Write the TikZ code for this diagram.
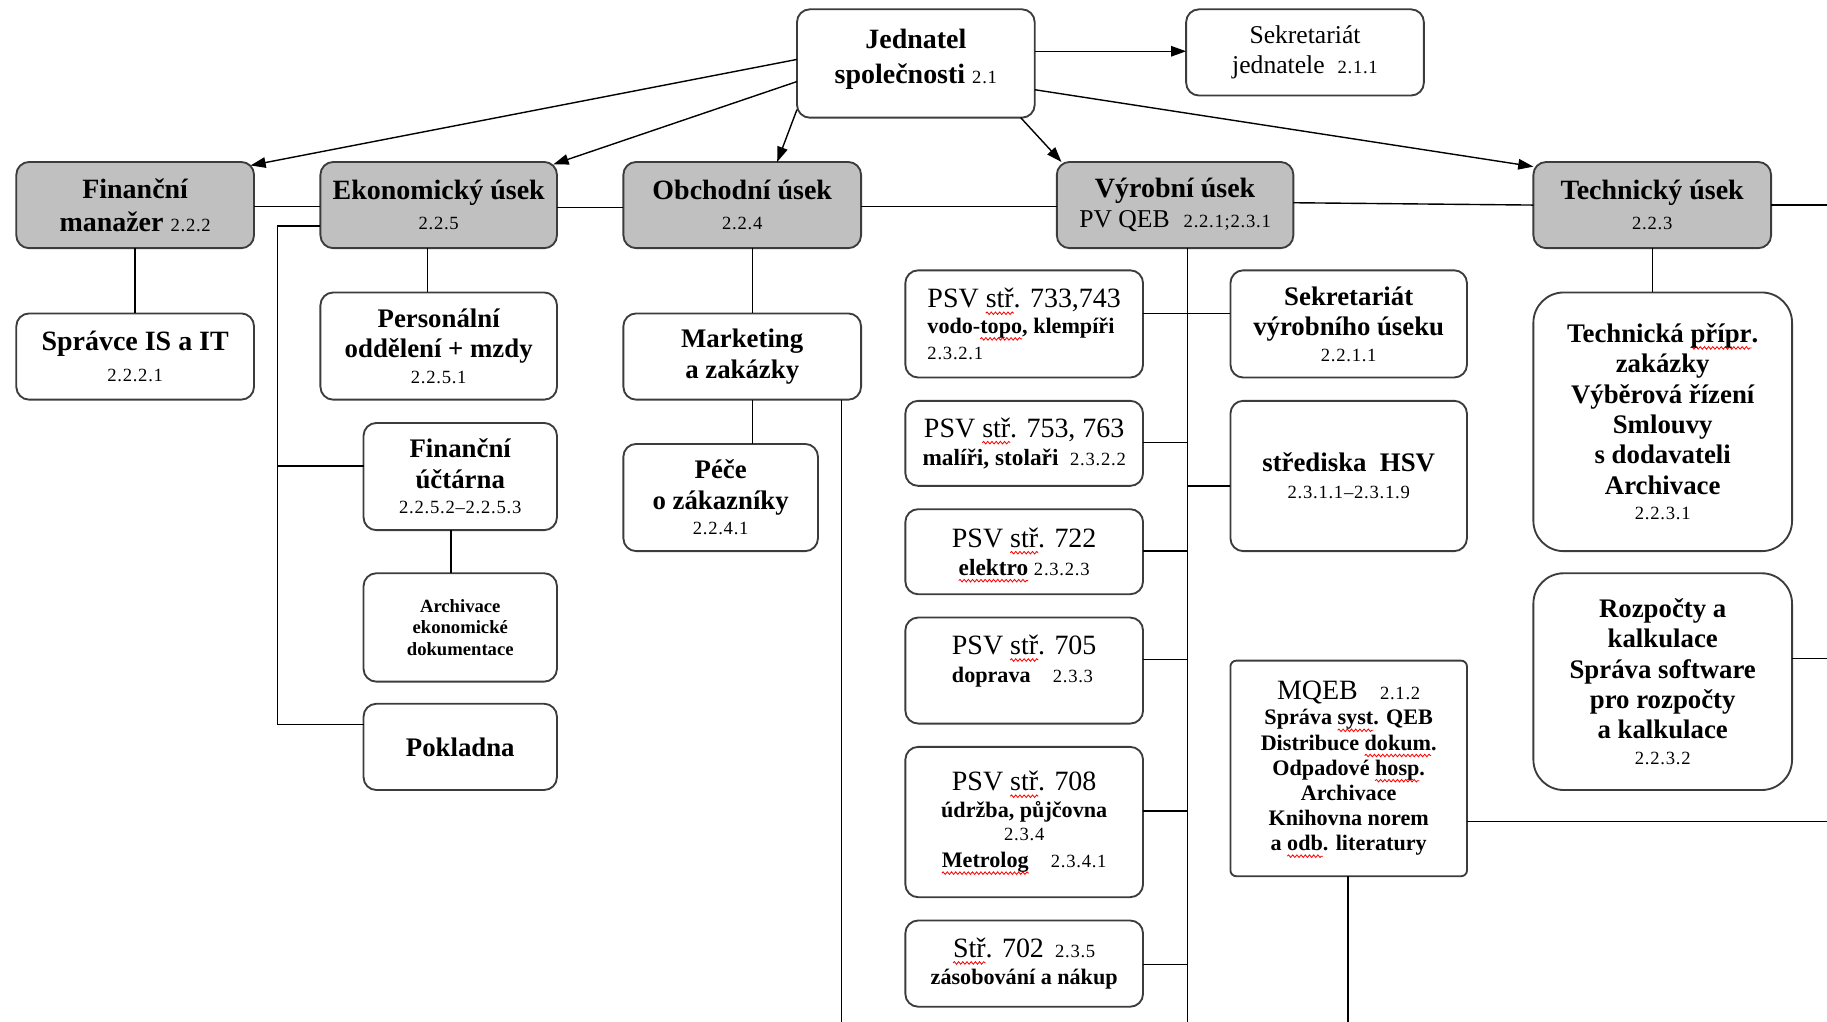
\documentclass[tikz,border=0pt]{standalone}
\usepackage{fontspec}
\setmainfont{Liberation Serif}
\newfontfamily\numf[LetterSpace=4]{Liberation Serif}
\usetikzlibrary{arrows.meta,calc,decorations.pathmorphing}
\definecolor{gcol}{RGB}{192,192,192}
\definecolor{bcol}{RGB}{60,60,60}
\newsavebox\sqbox
\newlength\sqw
\newcommand\sq[1]{\leavevmode\sbox\sqbox{#1}\setlength\sqw{\wd\sqbox}\rlap{\tikz[overlay,x=1pt,y=1pt,sharp corners]\draw[red,line width=0.35pt,decorate,decoration={snake,amplitude=0.55pt,segment length=1.8pt}] (0,-2.3) -- (\sqw,-2.3);}\usebox\sqbox}
\newcommand\nm[1]{{\numf\mdseries\fontsize{8}{9.5}\selectfont #1}}
\newcommand\fs[2]{\fontsize{#1}{#2}\selectfont}
\tikzset{
 bx/.style={draw=bcol, line width=0.8pt, rounded corners=5.5pt, fill=white, align=center,
   inner sep=0pt, outer sep=0pt, font=\bfseries\fs{11.5}{13}},
 gbx/.style={bx, fill=gcol, font=\bfseries\fs{12}{13}},
 rbx/.style={bx, rounded corners=13pt},
 sbx/.style={bx, rounded corners=2.5pt},
 ln/.style={draw=black, line width=0.6pt},
 ar/.style={ln, -{Triangle[length=6.5pt,width=4.5pt]}},
}
\begin{document}
\begin{tikzpicture}[x=0.5pt,y=-0.5pt]
\useasboundingbox (0,0) rectangle (1568,877);

% top level
\node[bx, minimum width=102pt, minimum height=46.5pt, font=\bfseries\fs{12}{15}, text depth=6pt] (jed) at (786,54.5) {Jednatel\\ společnosti \nm{2.1}};
\node[bx, minimum width=102pt, minimum height=37pt, font=\mdseries\fs{11}{13}] (sekj) at (1120,45) {Sekretariát\\ jednatele\ \ \nm{2.1.1}};

% second row (grey)
\node[gbx, minimum width=102pt, minimum height=37pt, font=\bfseries\fs{12}{14}] (fm) at (116,176) {Finanční\\ manažer \nm{2.2.2}};
\node[gbx, minimum width=101.5pt, minimum height=37pt] (eko) at (376.5,176) {Ekonomický úsek\\ \nm{2.2.5}};
\node[gbx, minimum width=102pt, minimum height=37pt] (obch) at (637,176) {Obchodní úsek\\ \nm{2.2.4}};
\node[gbx, minimum width=101.5pt, minimum height=37pt] (vyr) at (1008.5,176) {Výrobní úsek\\ {\mdseries\fs{11}{12}PV QEB}\ \ \nm{2.2.1;2.3.1}};
\node[gbx, minimum width=102pt, minimum height=37pt] (tech) at (1418,176) {Technický úsek\\ \nm{2.2.3}};

% finance / economics
\node[bx, minimum width=102pt, minimum height=37pt, font=\bfseries\fs{12}{13}] (spr) at (116,306) {Správce IS a IT\\ \nm{2.2.2.1}};
\node[bx, minimum width=101.5pt, minimum height=46pt] (pers) at (376.5,297) {Personální\\ oddělení + mzdy\\[-2pt] \nm{2.2.5.1}};
\node[bx, minimum width=83pt, minimum height=46pt] (fu) at (395,409) {Finanční\\ účtárna\\[-2pt] \nm{2.2.5.2–2.2.5.3}};
\node[bx, minimum width=83pt, minimum height=46.5pt, font=\bfseries\fs{8}{9.2}] (arch) at (395,538.5) {Archivace\\ ekonomické\\ dokumentace};
\node[bx, minimum width=83pt, minimum height=37pt] (pokl) at (395,641) {Pokladna};

% sales
\node[bx, minimum width=102pt, minimum height=37pt] (mark) at (637,306) {Marketing\\ a zakázky};
\node[bx, minimum width=83.5pt, minimum height=46pt] (pece) at (618.5,427) {Péče\\ o zákazníky\\[-2pt] \nm{2.2.4.1}};

% production
\node[bx, minimum width=102pt, minimum height=46pt, align=left, font=\bfseries\fs{9.5}{11}] (p733) at (879,278) {{\mdseries\fs{12}{13}PSV \sq{stř}. 733,743}\\ vodo-\sq{topo}, klempíři\\ \nm{2.3.2.1}};
\node[bx, minimum width=102pt, minimum height=36.5pt, font=\bfseries\fs{10}{12}] (p753) at (879,380.5) {{\mdseries\fs{12}{13}PSV \sq{stř}. 753, 763}\\ malíři, stolaři\ \ \nm{2.3.2.2}};
\node[bx, minimum width=102pt, minimum height=36.5pt, font=\bfseries\fs{10}{12}] (p722) at (879,473.5) {{\mdseries\fs{12}{13}PSV \sq{stř}. 722}\\ \sq{elektro} \nm{2.3.2.3}};
\node[bx, minimum width=102pt, minimum height=45.5pt, align=left, font=\bfseries\fs{9.5}{12}, text depth=10pt] (p705) at (879,575.5) {{\mdseries\fs{12}{13}PSV \sq{stř}. 705}\\ doprava\quad \nm{2.3.3}};
\node[bx, minimum width=102pt, minimum height=64.5pt, font=\bfseries\fs{9.5}{11.5}] (p708) at (879,705.5) {{\mdseries\fs{12}{13}PSV \sq{stř}. 708}\\ údržba, půjčovna\\[-1.5pt] \nm{2.3.4}\\ \sq{Metrolog}\quad\nm{2.3.4.1}};
\node[bx, minimum width=102pt, minimum height=37pt, font=\bfseries\fs{9.5}{11.5}] (s702) at (879,827) {{\mdseries\fs{12}{13}\sq{Stř}. 702}\ \ \nm{2.3.5}\\ zásobování a nákup};
\node[bx, minimum width=101.5pt, minimum height=46pt] (sekv) at (1157.5,278) {Sekretariát\\ výrobního úseku\\[-2pt] \nm{2.2.1.1}};
\node[bx, minimum width=101.5pt, minimum height=64.5pt] (hsv) at (1157.5,408.5) {střediska\ \ HSV\\[-1.5pt] \nm{2.3.1.1–2.3.1.9}};
\node[sbx, minimum width=101.5pt, minimum height=92.5pt, font=\bfseries\fs{9.5}{10.8}] (mqeb) at (1157.5,659.5) {{\mdseries\fs{12}{13}MQEB}\quad\nm{2.1.2}\\ Správa \sq{syst}. QEB\\ Distribuce \sq{dokum}.\\ Odpadové \sq{hosp}.\\ Archivace\\ Knihovna norem\\ a \sq{odb}. literatury};

% technical
\node[rbx, minimum width=111pt, minimum height=111pt] (tpz) at (1427,362) {Technická \sq{přípr}.\\ zakázky\\ Výběrová řízení\\ Smlouvy\\ s dodavateli\\ Archivace\\[-2pt] \nm{2.2.3.1}};
\node[rbx, minimum width=111pt, minimum height=93pt] (rozp) at (1427,585) {Rozpočty a\\ kalkulace\\ Správa software\\ pro rozpočty\\ a kalkulace\\[-2pt] \nm{2.2.3.2}};

% free ends at the picture edge
\coordinate (e1) at (1568,176);
\coordinate (e2) at (722,877);
\coordinate (e3) at (1019,877);
\coordinate (e4) at (1157,877);
\coordinate (e5) at (1568,705);
\coordinate (e6) at (1568,565);
\coordinate (b1) at (238,400);
\coordinate (b2) at (238,194);
\coordinate (b3) at (238,622);

% arrows from Jednatel
\draw[ar] (jed.west |- 0,51) -- ($(fm.north east)+(-3,3)$);
\draw[ar] (jed.west |- 0,70) -- ($(eko.north east)+(-3,2)$);
\draw[ar] (jed.west |- 0,94) -- (667,0 |- obch.north);
\draw[ar] (876,0 |- jed.south) -- ($(vyr.north west)+(4,0)$);
\draw[ar] (jed.east |- 0,77) -- (tech.west |- 0,143);
\draw[ar] (jed.east |- 0,44) -- (sekj.west |- 0,44);

% horizontal line through second row
\draw[ln] (fm.east |- 0,177) -- (eko.west |- 0,177);
\draw[ln] (eko.east |- 0,178) -- (obch.west |- 0,178);
\draw[ln] (obch.east |- 0,177) -- (vyr.west |- 0,177);
\draw[ln] (vyr.east |- 0,174) -- (tech.west |- 0,176);
\draw[ln] (tech.east |- 0,176) -- (e1);

% finance / economics
\draw[ln] (fm.south) -- (spr.north);
\draw[ln] (367,0 |- eko.south) -- (367,0 |- pers.north);
\draw[ln] (eko.west |- b2) -- (b2) -- (b3) -- (pokl.west |- b3);
\draw[ln] (b1) -- (fu.west |- b1);
\draw[ln] (387,0 |- fu.south) -- (387,0 |- arch.north);

% sales
\draw[ln] (646,0 |- obch.south) -- (646,0 |- mark.north);
\draw[ln] (646,0 |- mark.south) -- (646,0 |- pece.north);
\draw[ln] (722,0 |- mark.south) -- (e2);

% production
\draw[ln] (1019,0 |- vyr.south) -- (e3);
\draw[ln] (p733.east |- 0,269) -- (sekv.west |- 0,269);
\draw[ln] (p753.east |- 0,380) -- (1019,380);
\draw[ln] (p722.east |- 0,473) -- (1019,473);
\draw[ln] (p705.east |- 0,566) -- (1019,566);
\draw[ln] (p708.east |- 0,696) -- (1019,696);
\draw[ln] (s702.east |- 0,828) -- (1019,828);
\draw[ln] (1019,417) -- (hsv.west |- 0,417);
\draw[ln] (1157,0 |- mqeb.south) -- (e4);
\draw[ln] (mqeb.east |- 0,705) -- (e5);

% technical
\draw[ln] (1418,0 |- tech.south) -- (1418,0 |- tpz.north);
\draw[ln] (rozp.east |- 0,565) -- (e6);
\end{tikzpicture}
\end{document}
